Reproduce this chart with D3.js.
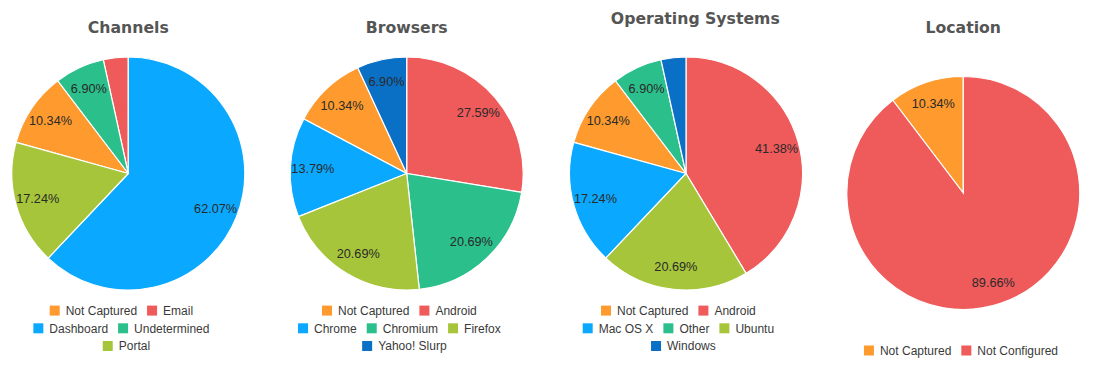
<!DOCTYPE html>
<html>
<head>
<meta charset="utf-8">
<script src="https://cdn.jsdelivr.net/npm/d3@7/dist/d3.min.js"></script>
<style>
  html, body { margin: 0; padding: 0; background: #fff; }
  svg { display: block; }
</style>
</head>
<body>
<svg id="chart" width="1098" height="384"></svg>
<script>
// ---- Data ----
const channelLabels = ["Not Captured", "Email", "Dashboard", "Undetermined", "Portal"];
const channelValues = [3, 1, 18, 2, 5];

const browserLabels = ["Not Captured", "Android", "Chrome", "Chromium", "Firefox", "Yahoo! Slurp"];
const browserValues = [3, 8, 4, 6, 6, 2];

const osLabels = ["Not Captured", "Android", "Mac OS X", "Other", "Ubuntu", "Windows"];
const osValues = [3, 12, 5, 2, 6, 1];

const locationLabels = ["Not Captured", "Not Configured"];
const locationValues = [3, 26];

const chartTitles = ["Channels", "Browsers", "Operating Systems", "Location"];

// ---- Styles / layout (not data) ----
const palette = ["#fe9a2e", "#ef5a5b", "#0aa8fe", "#2bbf8b", "#a6c53b", "#0a70c5"];
const layouts = [
  { cx: 128.3, cy: 173.5, tx: 128.3, ty: 33.3, legendCx: 121.4, legendBottom: 346 },
  { cx: 406.7, cy: 173.5, tx: 406.7, ty: 33.3, legendCx: 399.4, legendBottom: 346 },
  { cx: 686.0, cy: 173.5, tx: 695.3, ty: 24.0, legendCx: 678.4, legendBottom: 346 },
  { cx: 963.3, cy: 193.0, tx: 963.3, ty: 33.3, legendCx: 961.0, legendBottom: 350.5 }
];
const radius = 116.5;
const labelRadius = 94;
const legendMaxWidth = 212;
const rowGap = 17.7;

const charts = [
  { title: chartTitles[0], labels: channelLabels, values: channelValues },
  { title: chartTitles[1], labels: browserLabels, values: browserValues },
  { title: chartTitles[2], labels: osLabels, values: osValues },
  { title: chartTitles[3], labels: locationLabels, values: locationValues }
];

const svg = d3.select("#chart");

charts.forEach((c, i) => {
  const L = layouts[i];
  const color = d3.scaleOrdinal().domain(c.labels).range(palette);
  const total = d3.sum(c.values);
  const data = c.labels.map((l, k) => ({ label: l, value: c.values[k] }));

  // Title
  svg.append("text")
    .attr("x", L.tx).attr("y", L.ty)
    .attr("text-anchor", "middle")
    .attr("font-family", "'DejaVu Sans', Verdana, sans-serif")
    .attr("font-weight", "bold")
    .attr("font-size", "15.7px")
    .attr("fill", "#555")
    .text(c.title);

  // Pie
  const pie = d3.pie().value(d => d.value).sort((a, b) => b.value - a.value);
  const arcs = pie(data);
  const arc = d3.arc().innerRadius(0).outerRadius(radius);
  const labelArc = d3.arc().innerRadius(labelRadius).outerRadius(labelRadius);

  const g = svg.append("g").attr("transform", `translate(${L.cx},${L.cy})`);
  g.selectAll("path").data(arcs).enter().append("path")
    .attr("d", arc)
    .attr("fill", d => color(d.data.label))
    .attr("stroke", "#fff")
    .attr("stroke-width", 1.2);

  g.selectAll("text.pct").data(arcs.filter(d => d.data.value / total >= 0.05)).enter()
    .append("text")
    .attr("class", "pct")
    .attr("transform", d => `translate(${labelArc.centroid(d)})`)
    .attr("text-anchor", "middle")
    .attr("dy", "0.35em")
    .attr("font-family", "'Liberation Sans', Arial, sans-serif")
    .attr("font-size", "12.7px")
    .attr("fill", "#2a2a2a")
    .text(d => (d.data.value / total * 100).toFixed(2) + "%");

  // Legend: measure and wrap
  const lg = svg.append("g");
  const items = data.map(d => {
    const t = lg.append("text")
      .attr("font-family", "'Liberation Sans', Arial, sans-serif")
      .attr("font-size", "12px")
      .attr("fill", "#3a3a3a")
      .text(d.label);
    const w = t.node().getComputedTextLength();
    return { d, t, w: 16 + w };
  });
  const rows = [];
  let cur = [], curW = 0;
  items.forEach(it => {
    const add = (cur.length ? 10 : 0) + it.w;
    if (cur.length && curW + add > legendMaxWidth) {
      rows.push({ items: cur, w: curW });
      cur = [it]; curW = it.w;
    } else { cur.push(it); curW += add; }
  });
  if (cur.length) rows.push({ items: cur, w: curW });

  const firstY = L.legendBottom - (rows.length - 1) * rowGap;
  rows.forEach((r, ri) => {
    const y = firstY + ri * rowGap;
    const center = L.legendCx + (r.items.length === 1 ? 5 : 0);
    let x = center - r.w / 2;
    r.items.forEach(it => {
      lg.append("rect")
        .attr("x", x).attr("y", y - 5)
        .attr("width", 10).attr("height", 10)
        .attr("fill", color(it.d.label));
      it.t.attr("x", x + 16).attr("y", y).attr("dy", "0.35em");
      x += it.w + 10;
    });
  });
});
</script>
</body>
</html>
